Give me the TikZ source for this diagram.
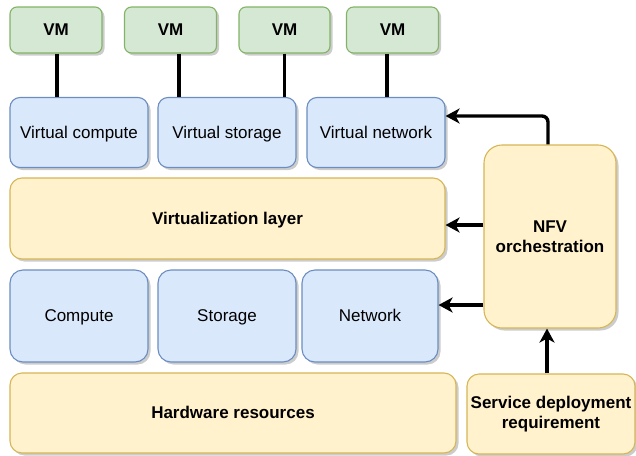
\documentclass[tikz,border=0pt]{standalone}
\usepackage{fontspec}
\setmainfont{Liberation Sans}
\usetikzlibrary{calc,arrows.meta,shadows}
\definecolor{vmfill}{HTML}{D5E8D4}
\definecolor{vmline}{HTML}{82B366}
\definecolor{resfill}{HTML}{DAE8FC}
\definecolor{resline}{HTML}{6C8EBF}
\definecolor{layfill}{HTML}{FFF2CC}
\definecolor{layline}{HTML}{D6B656}
\tikzset{
  box/.style={draw, line width=1.1pt, inner sep=2pt, align=center,
    font=\fontsize{17}{20.5}\selectfont,
    drop shadow={shadow xshift=2.5pt, shadow yshift=-2.5pt, fill=black, opacity=0.2}},
  one/.style={text height=15.4pt, text depth=3.6pt},
  vm/.style={box, fill=vmfill, draw=vmline, rounded corners=7pt, font=\fontsize{17}{20.5}\selectfont\bfseries,
    minimum width=92pt, minimum height=46pt},
  res/.style={box, one, fill=resfill, draw=resline, rounded corners=10pt, minimum width=138pt},
  lay/.style={box, fill=layfill, draw=layline, rounded corners=12pt, font=\fontsize{17}{20.5}\selectfont\bfseries},
  link/.style={draw=black, line width=3.4pt},
  push/.style={link, -{Stealth[length=14pt, width=15pt, inset=4pt]}, rounded corners=6pt},
}
\begin{document}
\begin{tikzpicture}[x=1pt, y=-1pt]
  \useasboundingbox (0,0) rectangle (636,455);
  % virtual machines
  \node[vm] (vm1) at (56,30) {VM};
  \node[vm] (vm2) at (170.5,30) {VM};
  \node[vm, minimum width=91pt] (vm3) at (284.5,30) {VM};
  \node[vm] (vm4) at (392.5,30) {VM};
  % virtual resources
  \node[res, minimum height=70pt] (vcomp) at (79,132.5) {Virtual compute};
  \node[res, minimum height=70pt] (vstor) at (227,132.5) {Virtual storage};
  \node[res, minimum height=70pt] (vnet) at (376,132.5) {Virtual network};
  \node[lay, one, minimum width=435pt, minimum height=81pt] (virt) at (227.5,218.5) {Virtualization layer};
  % physical resources
  \node[res, minimum height=92pt, rounded corners=13pt] (comp) at (79,316) {Compute};
  \node[res, minimum height=92pt, rounded corners=13pt] (stor) at (227,316) {Storage};
  \node[res, minimum height=92pt, minimum width=136pt, rounded corners=13pt] (net) at (370,316) {Network};
  \node[lay, one, minimum width=446pt, minimum height=80pt] (hw) at (233,413) {Hardware resources};
  % orchestration
  \node[lay, minimum width=132pt, minimum height=183pt, rounded corners=18pt] (nfv) at (550,236.5) {NFV\\orchestration};
  \node[lay, minimum width=168pt, minimum height=80pt, inner sep=0pt] (sdr) at (551,414) {Service deployment\\requirement};

  \draw[link] ([xshift=1pt]vm1.south) -- ([xshift=1pt]vm1.south |- vcomp.north);
  \draw[link] ([xshift=8.5pt]vm2.south) -- ([xshift=8.5pt]vm2.south |- vstor.north);
  \draw[link] (vm3.south) -- (vm3.south |- vstor.north);
  \draw[link] ([xshift=-5.5pt]vm4.south) -- ([xshift=-5.5pt]vm4.south |- vnet.north);

  \coordinate (t1) at ($(vnet.east)+(0,-16.5)$);
  \coordinate (t2) at ($(virt.east)+(0,6.5)$);
  \coordinate (t3) at ($(net.east)+(0,-11)$);
  \draw[push] ([xshift=-2pt]nfv.north) |- (t1);
  \draw[push] (t2 -| nfv.west) -- (t2);
  \draw[push] (t3 -| nfv.west) -- (t3);
  \draw[push] ([xshift=-4pt]sdr.north) -- ([xshift=-4pt]sdr.north |- nfv.south);
\end{tikzpicture}
\end{document}
